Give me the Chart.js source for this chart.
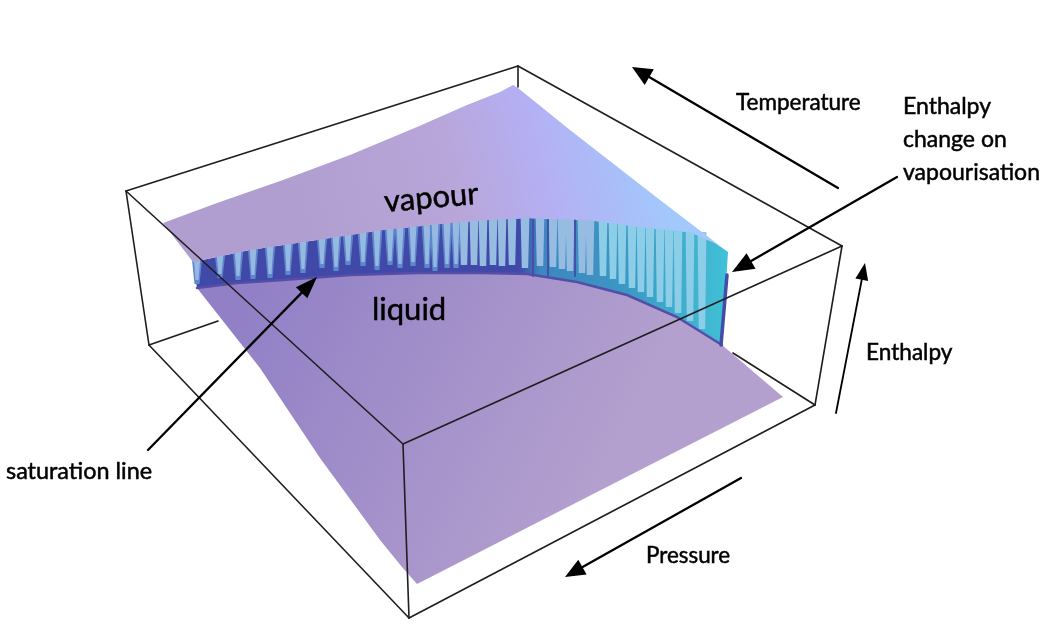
<!DOCTYPE html>
<html>
<head>
<meta charset="utf-8">
<title>Enthalpy surface</title>
<script src="https://cdn.jsdelivr.net/npm/chart.js@4"></script>
<style>
  html, body { margin: 0; padding: 0; background: #fff; }
  canvas { display: block; filter: blur(0.5px); }
</style>
</head>
<body>
<canvas id="surfaceChart" width="1052" height="640"></canvas>
<script>
// Vapour sheet outline
const vapourX = [163, 217, 283, 350, 417, 467, 500, 513, 518, 570, 660, 728, 715, 690, 640, 588, 527, 488, 450, 383, 317, 250, 193];
const vapourY = [223, 203, 180, 155, 127, 105, 92, 85, 88, 130, 200, 252, 243, 232, 227, 220, 218, 220, 223, 230, 240, 250, 262];

// Liquid sheet outline
const liquidX = [197, 260, 320, 380, 402, 417, 783, 722, 677, 627, 577, 527, 483, 417, 350, 283, 237];
const liquidY = [288, 368, 458, 540, 567, 584, 397, 345, 317, 295, 282, 274, 273, 273, 275, 280, 283];

// The step between the sheets (top edge, then bottom edge)
const stepTopX = [193, 250, 317, 383, 450, 488, 527, 588, 640, 690, 715, 728];
const stepTopY = [262, 250, 240, 230, 223, 220, 218, 220, 227, 232, 243, 252];
const stepBottomX = [197, 237, 283, 350, 417, 483, 527, 577, 627, 677, 722];
const stepBottomY = [288, 283, 280, 275, 273, 273, 274, 282, 295, 317, 345];

// Light columns on the step
const columnX = [197, 220, 238, 253, 270, 288, 303, 322, 336, 348, 363, 377, 390, 400, 413, 427, 435, 447, 456,
  464, 474, 483, 493, 502, 512, 525, 540, 553, 562, 570, 582, 590,
  603, 613, 622, 632, 641, 650, 660, 669, 678, 690, 702];
const columnTop = [258, 255, 250, 248, 246, 243, 240, 238, 236, 235, 233, 231, 230, 229, 227, 226, 225, 224, 223,
  222, 221, 220, 219, 219, 218, 218, 218, 218, 219, 219, 219, 220,
  221, 222, 223, 224, 226, 226, 227, 228, 229, 231, 235];
const columnTip = [284, 278, 280, 279, 278, 275, 273, 268, 271, 265, 266, 270, 265, 268, 266, 268, 271, 268, 268,
  265, 265, 266, 265, 266, 265, 268, 266, 267, 269, 271, 273, 275,
  276, 279, 284, 288, 292, 297, 302, 307, 313, 321, 329];
const darkLineX = [533, 548, 575];

// Box edges, each one from a corner to a corner
const edgeFromX = [126, 518, 126, 403, 126, 403, 842, 518, 149, 409, 149, 815];
const edgeFromY = [191, 66, 191, 444, 191, 444, 246, 66, 345, 618, 345, 405];
const edgeToX = [518, 842, 403, 842, 149, 409, 815, 518, 409, 815, 218, 733];
const edgeToY = [66, 246, 444, 246, 345, 618, 405, 87, 618, 405, 321, 353];

// Arrows
const arrowTailX = [838, 897, 836, 741, 148];
const arrowTailY = [188, 177, 413, 478, 450];
const arrowTipX = [632, 732, 865, 565, 317];
const arrowTipY = [67, 272, 263, 577, 277];
const arrowHeadLength = [20, 22, 17, 20, 22];
const arrowHeadHalf = [9, 9, 6.5, 8.5, 8];

// Text
const labelText = ['vapour', 'liquid', 'Temperature', 'Enthalpy', 'change on', 'vapourisation', 'Enthalpy', 'Pressure', 'saturation line'];
const labelX = [385, 372, 736, 903, 903, 903, 866, 646, 6];
const labelY = [212, 320, 110, 114, 147, 180, 360, 563, 479];
const labelSize = [31, 31, 22.5, 23, 23, 23, 22.6, 22.4, 23.4];
const labelAngle = [-5, 0, 0, 0, 0, 0, 0, 0, 0];

const canvas = document.getElementById('surfaceChart');
const ctx = canvas.getContext('2d');

function gradient(x0, y0, x1, y1, stops) {
  const g = ctx.createLinearGradient(x0, y0, x1, y1);
  stops.forEach(s => g.addColorStop(s[0], s[1]));
  return g;
}

const vapourFill = gradient(300, 230, 650, 140, [
  [0, 'rgb(176,158,208)'], [0.45, 'rgb(184,166,218)'], [0.7, 'rgb(180,176,244)'], [1, 'rgb(162,200,252)']
]);
const liquidFill = gradient(250, 300, 600, 480, [
  [0, 'rgb(145,128,198)'], [1, 'rgb(180,160,206)']
]);
const stepFill = gradient(192, 0, 728, 0, [
  [0, 'rgb(64,72,168)'], [0.61, 'rgb(64,72,168)'], [0.65, 'rgb(60,135,190)'],
  [0.8, 'rgb(60,150,195)'], [0.97, 'rgb(65,185,210)'], [1, 'rgb(60,195,215)']
]);

const datasets = [];

function zip(xs, ys) {
  return xs.map((x, i) => ({ x: x, y: ys[i] }));
}

function addShape(points, fill) {
  datasets.push({
    data: points, showLine: true, fill: 'shape', tension: 0, pointRadius: 0,
    borderWidth: 0, borderColor: fill, backgroundColor: fill
  });
}

function addLine(points, color, width) {
  datasets.push({
    data: points, showLine: true, fill: false, tension: 0, pointRadius: 0,
    borderWidth: width, borderColor: color, borderCapStyle: 'round'
  });
}

// liquid sheet and step first, the vapour sheet laps over the column tops
addShape(zip(liquidX, liquidY), liquidFill);
addShape(zip(stepTopX.concat(stepBottomX.slice().reverse()), stepTopY.concat(stepBottomY.slice().reverse())), stepFill);

columnX.forEach((x, i) => {
  const top = columnTop[i] - 3;
  const tip = columnTip[i];
  const left = x < 458;
  const right = x > 598;
  const half = left ? 5.5 : 4.4;
  const tipHalf = left ? 2.5 : 3.2;
  const color = left ? 'rgb(95,135,205)' : (right ? 'rgb(140,205,232)' : 'rgb(150,188,226)');
  addShape([{ x: x - half, y: top }, { x: x + half, y: top }, { x: x + tipHalf, y: tip }, { x: x - tipHalf, y: tip }], color);
  if (left) {
    addShape([{ x: x - 3.5, y: top }, { x: x + 3.5, y: top }, { x: x + 1.5, y: tip - 4 }, { x: x - 1.5, y: tip - 4 }], 'rgb(150,185,226)');
  }
});

darkLineX.forEach(x => {
  addLine([{ x: x, y: 220 }, { x: x, y: 276 }], 'rgb(70,80,170)', 2);
});

addLine(zip(stepBottomX, stepBottomY), 'rgb(84,78,168)', 2.5);
addLine([{ x: 727, y: 275 }, { x: 721, y: 345 }], 'rgb(70,75,170)', 3.5);

addShape(zip(vapourX, vapourY), vapourFill);

edgeFromX.forEach((x, i) => {
  addLine([{ x: x, y: edgeFromY[i] }, { x: edgeToX[i], y: edgeToY[i] }], 'rgb(30,30,30)', 1.6);
});

arrowTipX.forEach((tipX, i) => {
  const tipY = arrowTipY[i];
  const dx = tipX - arrowTailX[i];
  const dy = tipY - arrowTailY[i];
  const len = Math.sqrt(dx * dx + dy * dy);
  const ux = dx / len;
  const uy = dy / len;
  const headLen = arrowHeadLength[i];
  const headHalf = arrowHeadHalf[i];
  addLine([{ x: arrowTailX[i], y: arrowTailY[i] }, { x: tipX - ux * 12, y: tipY - uy * 12 }], '#000', i === 2 ? 1.8 : 2.3);
  addShape([
    { x: tipX, y: tipY },
    { x: tipX - ux * headLen - uy * headHalf, y: tipY - uy * headLen + ux * headHalf },
    { x: tipX - ux * headLen + uy * headHalf, y: tipY - uy * headLen - ux * headHalf }
  ], '#000');
});

// later datasets sit on top
datasets.forEach((d, i) => { d.order = datasets.length - i; });

const labelPlugin = {
  id: 'labelPlugin',
  afterDraw(chart) {
    const c = chart.ctx;
    const sx = chart.scales.x;
    const sy = chart.scales.y;
    labelText.forEach((t, i) => {
      c.save();
      c.translate(sx.getPixelForValue(labelX[i]), sy.getPixelForValue(labelY[i]));
      c.rotate(labelAngle[i] * Math.PI / 180);
      c.font = labelSize[i] + 'px Lato';
      c.fillStyle = '#000';
      c.strokeStyle = '#000';
      c.lineWidth = 0.5;
      c.textAlign = 'left';
      c.textBaseline = 'alphabetic';
      c.fillText(t, 0, 0);
      c.strokeText(t, 0, 0);
      c.restore();
    });
  }
};

new Chart(ctx, {
  type: 'scatter',
  data: { datasets: datasets },
  options: {
    responsive: false,
    animation: false,
    layout: { padding: 0 },
    plugins: { legend: { display: false }, tooltip: { enabled: false } },
    scales: {
      x: { type: 'linear', min: 0, max: 1052, display: false },
      y: { type: 'linear', min: 0, max: 640, reverse: true, display: false }
    }
  },
  plugins: [labelPlugin]
});
</script>
</body>
</html>
